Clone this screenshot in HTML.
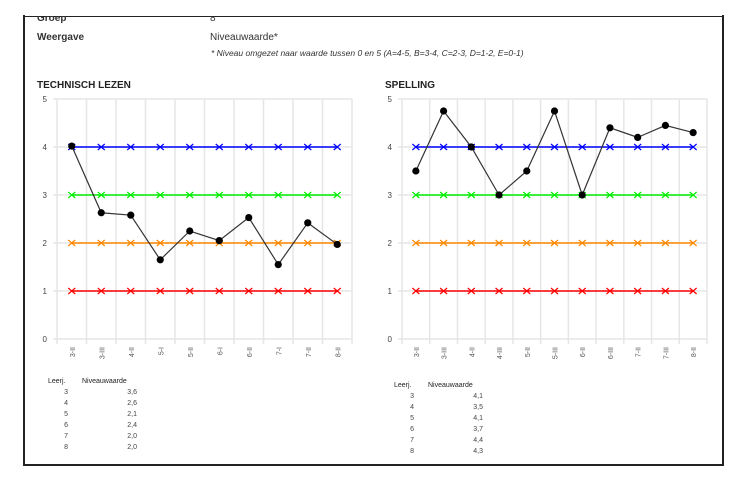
<!DOCTYPE html>
<html><head><style>
body{margin:0;background:#fff;width:743px;height:482px;overflow:hidden}
svg{display:block;font-family:"Liberation Sans",Arial,sans-serif}
</style></head><body>
<svg width="743" height="482" viewBox="0 0 743 482">
<rect x="24" y="16" width="699" height="449" fill="none" stroke="#222" stroke-width="2"/>
<text x="37" y="21" font-size="10" font-weight="bold" fill="#333">Groep</text>
<text x="210" y="21" font-size="10" fill="#333">8</text>
<rect x="25" y="8" width="697" height="8" fill="#fff"/>
<text x="37" y="40" font-size="10" font-weight="bold" fill="#333">Weergave</text>
<text x="210" y="40" font-size="10" fill="#333">Niveauwaarde*</text>
<text x="211" y="56" font-size="8.5" font-style="italic" fill="#333">* Niveau omgezet naar waarde tussen 0 en 5 (A=4-5, B=3-4, C=2-3, D=1-2, E=0-1)</text>
<text x="37" y="88" font-size="10" font-weight="bold" fill="#222">TECHNISCH LEZEN</text>
<text x="385" y="88" font-size="10" font-weight="bold" fill="#222">SPELLING</text>
<g id="c"></g>
</svg>
<script>
function chart(x0,x1,vals,labels,lx){
 const s=document.querySelector('svg'),ns='http://www.w3.org/2000/svg';
 const n=labels.length,w=(x1-x0)/n,Y=v=>339-48*v;
 let h='';
 for(let i=0;i<=n;i++){const x=x0+i*w;h+=`<line x1="${x}" y1="99" x2="${x}" y2="344" stroke="#e6e6e6" stroke-width="1.5"/>`;}
 for(let v=0;v<=5;v++){h+=`<line x1="${x0-4}" y1="${Y(v)}" x2="${x1}" y2="${Y(v)}" stroke="#e6e6e6" stroke-width="1.5"/><text x="${x0-10}" y="${Y(v)+3}" font-size="8" fill="#444" text-anchor="end">${v}</text>`;}
 const cols=[[4,'#00f'],[3,'#0e0'],[2,'#f80'],[1,'#f00']];
 cols.forEach(([v,c])=>{h+=`<line x1="${x0+w/2}" y1="${Y(v)}" x2="${x1-w/2}" y2="${Y(v)}" stroke="${c}" stroke-width="1.5"/>`;
  for(let i=0;i<n;i++){const x=x0+w*(i+.5),y=Y(v);h+=`<path d="M${x-3.5} ${y-3}L${x+3.5} ${y+3}M${x-3.5} ${y+3}L${x+3.5} ${y-3}" stroke="${c}" stroke-width="1.2"/>`;}});
 let p=vals.map((v,i)=>`${x0+w*(i+.5)},${Y(v)}`).join(' ');
 h+=`<polyline points="${p}" fill="none" stroke="#333" stroke-width="1.2"/>`;
 vals.forEach((v,i)=>{h+=`<circle cx="${x0+w*(i+.5)}" cy="${Y(v)}" r="3.6" fill="#000"/>`;});
 labels.forEach((l,i)=>{const x=x0+w*(i+.5)+3;h+=`<text transform="translate(${x},347) rotate(-90)" font-size="7" fill="#555" text-anchor="end">${l}</text>`;});
 s.insertAdjacentHTML('beforeend',h);
}
chart(57,352,[4.02,2.63,2.58,1.65,2.25,2.05,2.53,1.55,2.42,1.97],['3-II','3-III','4-II','5-I','5-II','6-I','6-II','7-I','7-II','8-II']);
chart(402,707,[3.5,4.75,4.0,3.0,3.5,4.75,3.0,4.4,4.2,4.45,4.3],['3-II','3-III','4-II','4-III','5-II','5-III','6-II','6-III','7-II','7-III','8-II']);
function table(x,y,vals){
 const s=document.querySelector('svg');let h=`<text x="${x}" y="${y}" font-size="7" fill="#222">Leerj.</text><text x="${x+34}" y="${y}" font-size="7" fill="#222">Niveauwaarde</text>`;
 vals.forEach((v,i)=>{const yy=y+11*(i+1);h+=`<text x="${x+20}" y="${yy}" font-size="7" fill="#444" text-anchor="end">${i+3}</text><text x="${x+89}" y="${yy}" font-size="7" fill="#444" text-anchor="end">${v}</text>`;});
 s.insertAdjacentHTML('beforeend',h);
}
table(48,383,['3,6','2,6','2,1','2,4','2,0','2,0']);
table(394,387,['4,1','3,5','4,1','3,7','4,4','4,3']);
</script>
</body></html>
